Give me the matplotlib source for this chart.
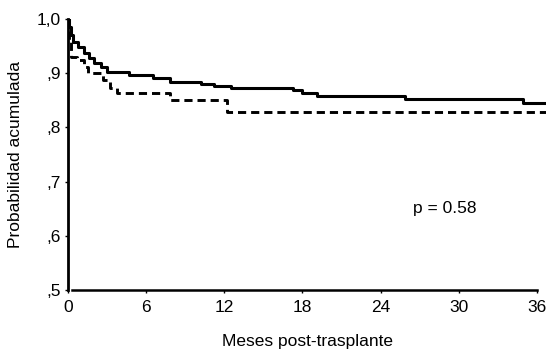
import matplotlib
matplotlib.use("Agg")
import matplotlib.pyplot as plt

plt.rcParams['font.family'] = ['Liberation Sans', 'DejaVu Sans']

# Kaplan-Meier style step data (months, cumulative probability)
solid_t = [0, 0.1, 0.2, 0.35, 0.8, 1.2, 1.6, 2.0, 2.5, 3.0, 4.7, 6.5, 7.8,
           10.2, 11.2, 12.5, 17.3, 18.0, 19.1, 25.9, 34.9, 36.7]
solid_s = [1.0, 0.985, 0.97, 0.957, 0.948, 0.937, 0.928, 0.918, 0.911, 0.903,
           0.897, 0.891, 0.884, 0.880, 0.876, 0.872, 0.869, 0.863, 0.858,
           0.852, 0.845, 0.845]

dash_t = [0, 0.1, 0.2, 0.7, 1.2, 1.5, 2.7, 3.2, 3.8, 7.8, 12.2, 36.7]
dash_s = [1.0, 0.96, 0.93, 0.924, 0.911, 0.900, 0.887, 0.873, 0.863, 0.850,
          0.828, 0.828]

xticks = [0, 6, 12, 18, 24, 30, 36]
yticks = [0.5, 0.6, 0.7, 0.8, 0.9, 1.0]
ytick_labels = [",5", ",6", ",7", ",8", ",9", "1,0"]

fig = plt.figure(figsize=(5.47, 3.49), dpi=100)
ax = fig.add_axes([68/547, 59/349, 478/547, 271/349])

ax.step(solid_t, solid_s, where='post', color='black', lw=2.2)
ax.step(dash_t, dash_s, where='post', color='black', lw=2.1,
        linestyle=(0, (2.8, 1.7)))

ax.set_xlim(0, 36.7)
ax.set_ylim(0.5, 1.0)
ax.set_xticks(xticks)
ax.set_xticklabels([str(x) for x in xticks])
ax.set_yticks(yticks)
ax.set_yticklabels(ytick_labels)

for s in ['top', 'right']:
    ax.spines[s].set_visible(False)
ax.spines['left'].set_linewidth(2.0)
ax.spines['bottom'].set_linewidth(1.8)
ax.spines['bottom'].set_bounds(0.3, 36)

ax.tick_params(axis='both', labelsize=12.5, length=2, width=1, pad=3)
ax.tick_params(axis='x', pad=5)

ax.set_xlabel("Meses post-trasplante", fontsize=12.5, labelpad=14)
ax.set_ylabel("Probabilidad acumulada", fontsize=12.5, labelpad=10)

ax.text(28.9, 0.651, "p = 0.58", fontsize=12.5, ha='center', va='center')

fig.savefig("out.png", dpi=100)
